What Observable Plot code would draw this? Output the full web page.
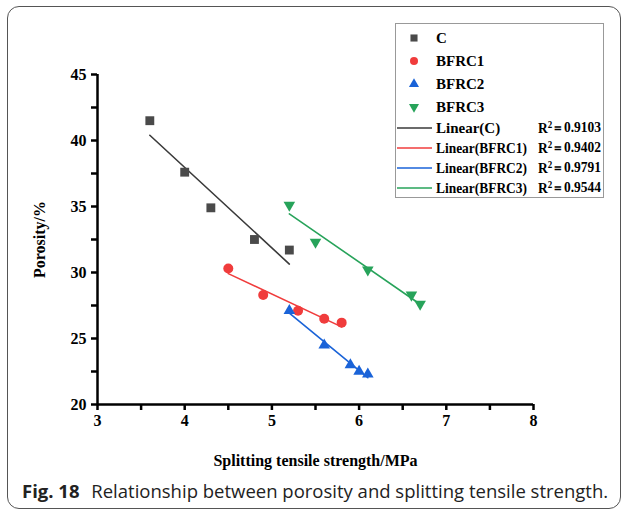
<!DOCTYPE html>
<html>
<head>
<meta charset="utf-8">
<script src="https://cdn.jsdelivr.net/npm/d3@7"></script>
<script src="https://cdn.jsdelivr.net/npm/@observablehq/plot@0.6"></script>
<style>
  html, body { margin: 0; padding: 0; background: #fff; }
  #wrap { position: relative; width: 626px; height: 514px; overflow: hidden; background: #fff; }
  #frame { position: absolute; left: 7px; top: 6px; width: 614px; height: 503px; border: 1.3px solid #555; border-radius: 12px; box-sizing: border-box; }
  #chart { position: absolute; left: 0; top: 0; }
  #caption { position: absolute; left: 22px; top: 478px; font-family: "Open Sans", "Noto Sans", sans-serif; font-size: 18.5px; color: #222; white-space: nowrap; }
  #caption b { font-weight: 700; margin-right: 7px; }
</style>
</head>
<body>
<div id="wrap">
  <div id="frame"></div>
  <div id="chart"></div>
  <div id="caption"><b>Fig. 18</b> Relationship between porosity and splitting tensile strength.</div>
</div>
<script>
// ---- data ----
const seriesNames = ["C", "BFRC1", "BFRC2", "BFRC3"];
const xC = [3.6, 4.0, 4.3, 4.8, 5.2];
const yC = [41.5, 37.6, 34.9, 32.5, 31.7];
const xB1 = [4.5, 4.9, 5.3, 5.6, 5.8];
const yB1 = [30.3, 28.3, 27.1, 26.5, 26.2];
const xB2 = [5.2, 5.6, 5.9, 6.0, 6.1];
const yB2 = [27.1, 24.5, 23.0, 22.5, 22.3];
const xB3 = [5.2, 5.5, 6.1, 6.6, 6.7];
const yB3 = [35.1, 32.3, 30.2, 28.3, 27.6];
const r2Values = ["0.9103", "0.9402", "0.9791", "0.9544"];
const xTicks = [3, 4, 5, 6, 7, 8];
const xMinorTicks = [3.5, 4.5, 5.5, 6.5, 7.5];
const yTicks = [20, 25, 30, 35, 40, 45];
const yMinorTicks = [22.5, 27.5, 32.5, 37.5, 42.5];
const xLabel = "Splitting tensile strength/MPa";
const yLabel = "Porosity/%";

// ---- styles ----
const markerColors = ["#4a4a4a", "#f03c3c", "#1a63d8", "#27a35a"];
const lineColors = ["#3a3a3a", "#f03c3c", "#1a63d8", "#27a35a"];
const downTriangle = {
  draw(context, size) {
    const y = Math.sqrt(size / (Math.sqrt(3) * 3));
    context.moveTo(0, 2 * y);
    context.lineTo(Math.sqrt(3) * y, -y);
    context.lineTo(-Math.sqrt(3) * y, -y);
    context.closePath();
  }
};
const symbols = [d3.symbolSquare, d3.symbolCircle, d3.symbolTriangle, downTriangle];
const radii = [5, 5, 4.3, 4.3];

const xs = [xC, xB1, xB2, xB3];
const ys = [yC, yB1, yB2, yB3];
const data = seriesNames.flatMap((s, i) => xs[i].map((x, j) => ({series: s, x, y: ys[i][j]})));

const font = "'Liberation Serif', 'Times New Roman', serif";
const intFmt = d3.format("d");

const chart = Plot.plot({
  width: 626,
  height: 475,
  marginLeft: 97,
  marginRight: 93,
  marginTop: 74,
  marginBottom: 71,
  x: {domain: [xTicks[0], xTicks[xTicks.length - 1]]},
  y: {domain: [yTicks[0], yTicks[yTicks.length - 1]]},
  color: {domain: seriesNames, range: lineColors},
  style: {fontFamily: font, fontSize: "16px", fontWeight: "bold", color: "#000", background: "transparent"},
  marks: [
    Plot.axisX({ticks: xTicks, tickFormat: intFmt, tickSize: 6, strokeWidth: 2.5, tickPadding: 4, fontSize: 16,
      label: xLabel, labelAnchor: "center", labelArrow: false, labelOffset: 61}),
    Plot.axisX({ticks: xMinorTicks, tickSize: 6, strokeWidth: 2.5, tickFormat: () => "", label: null}),
    Plot.axisY({ticks: yTicks, tickFormat: intFmt, tickSize: 6, strokeWidth: 2.5, tickPadding: 5, fontSize: 16,
      label: yLabel, labelAnchor: "center", labelArrow: false, labelOffset: 64}),
    Plot.axisY({ticks: yMinorTicks, tickSize: 6, strokeWidth: 2.5, tickFormat: () => "", label: null}),
    Plot.ruleY([yTicks[0]], {strokeWidth: 2.5, stroke: "#000"}),
    Plot.ruleX([xTicks[0]], {strokeWidth: 2.5, stroke: "#000"}),
    Plot.linearRegressionY(data, {x: "x", y: "y", stroke: "series", ci: 0, strokeWidth: 1.6}),
    ...seriesNames.map((s, i) => Plot.dot(data.filter(d => d.series === s), {
      x: "x", y: "y", fill: markerColors[i], stroke: "none", symbol: symbols[i], r: radii[i]
    }))
  ]
});
document.getElementById("chart").appendChild(chart);

// ---- legend ----
const svg = d3.select(chart);
const lg = svg.append("g").attr("font-family", font).attr("font-weight", "bold")
  .attr("font-size", 15).attr("text-anchor", "start").attr("fill", "#000");
lg.append("rect").attr("x", 395.5).attr("y", 23.5).attr("width", 208).attr("height", 174)
  .attr("fill", "#fff").attr("stroke", "#999").attr("stroke-width", 1);
const rowY = [38, 61, 84, 107, 128, 148, 168, 188];
function fit(sel, maxW) {
  const w = sel.node().getComputedTextLength();
  if (w > maxW) sel.attr("textLength", maxW).attr("lengthAdjust", "spacingAndGlyphs");
}
seriesNames.forEach((s, i) => {
  lg.append("path")
    .attr("transform", `translate(414,${rowY[i]})`)
    .attr("d", d3.symbol(symbols[i], Math.PI * (i < 2 ? 16 : 14)))
    .attr("fill", markerColors[i]);
  lg.append("text").attr("x", 436).attr("y", rowY[i]).attr("dy", "0.35em").text(s);
});
seriesNames.forEach((s, i) => {
  const y = rowY[4 + i];
  lg.append("line").attr("x1", 397).attr("x2", 432).attr("y1", y).attr("y2", y)
    .attr("stroke", lineColors[i]).attr("stroke-width", 1.6);
  const lbl = lg.append("text").attr("x", 436).attr("y", y).attr("dy", "0.35em").text(`Linear(${s})`);
  fit(lbl, 91);
  const t = lg.append("text").attr("x", 538).attr("y", y).attr("dy", "0.35em");
  t.append("tspan").text("R");
  t.append("tspan").attr("font-size", 10).attr("dy", "-0.55em").text("2");
  t.append("tspan").attr("dy", "0.35em").attr("font-size", 13).text("\uFF1D");
  t.append("tspan").text(r2Values[i]);
  fit(t, 63);
});
</script>
</body>
</html>
